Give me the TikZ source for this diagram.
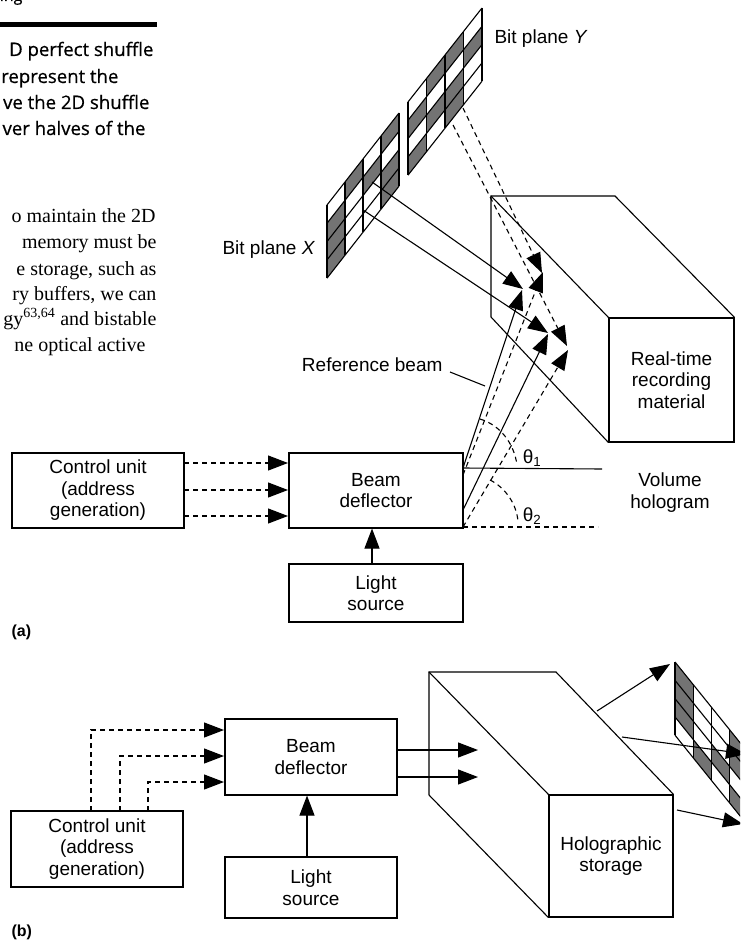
\documentclass[tikz,border=0pt]{standalone}
\usepackage{fontspec}
\setmainfont{Liberation Sans}
\newfontfamily\capfont[FakeBold=0.6]{Open Sans}
\newfontfamily\bodyfont{Liberation Serif}
\usetikzlibrary{arrows.meta}
\newcommand{\bitplane}[6]{%
  \foreach \c/\r in {#6} {
    \fill[halftone] ({#1+\c*#3},{#2+\c*#4+\r*#5}) -- ({#1+(\c+1)*#3},{#2+(\c+1)*#4+\r*#5})
      -- ({#1+(\c+1)*#3},{#2+(\c+1)*#4+(\r+1)*#5}) -- ({#1+\c*#3},{#2+\c*#4+(\r+1)*#5}) -- cycle;
  }
  \foreach \c in {0,...,4} { \draw[gridline] ({#1+\c*#3},{#2+\c*#4}) -- ({#1+\c*#3},{#2+\c*#4+4*#5}); }
  \foreach \r in {0,...,4} { \draw[gridline] ({#1},{#2+\r*#5}) -- ({#1+4*#3},{#2+4*#4+\r*#5}); }
}
\begin{document}
\begin{tikzpicture}[x=1pt,y=-1pt,
  line width=1.1pt,
  halftone/.style={fill=black!55},
  gridline/.style={line width=1.1pt},
  tbox/.style={draw,rectangle,align=center,inner sep=0pt,font=\fontsize{19}{21.5}\selectfont},
  lbl/.style={align=center,inner sep=0pt,font=\fontsize{19}{21.5}\selectfont},
  arr/.style={-{Triangle[length=20pt,width=15pt]},shorten >=0pt},
  dashline/.style={dash pattern=on 5pt off 4pt},
  dasharr/.style={arr,dashline},
  edge3d/.style={line width=1.1pt},
  capt/.style={anchor=base east,inner sep=0pt,font=\capfont\fontsize{18.6}{20}\selectfont},
  bodyt/.style={anchor=base east,inner sep=0pt,font=\bodyfont\fontsize{20}{20}\selectfont},
  panel/.style={anchor=west,inner sep=0pt,font=\bfseries\fontsize{16}{18}\selectfont}
]
\clip (0,0) rectangle (740,944);
\fill[white] (0,0) rectangle (740,944);

% --- page fragment ---
\node[capt] (t0) at (23,1) {\fontsize{16}{18}\selectfont ing};
\fill (0,22.5) rectangle (157,27.5);
\node[capt] (t1) at (154,56) {D perfect shuffle};
\node[capt] (t2) at (119,83) {represent the};
\node[capt] (t3) at (150,109) {ve the 2D shuffle};
\node[capt] (t4) at (146,135) {ver halves of the};
\node[bodyt] (b1) at (156,222) {o maintain the 2D};
\node[bodyt] (b2) at (157,248) {memory must be};
\node[bodyt] (b3) at (157,275) {e storage, such as};
\node[bodyt] (b4) at (157,300) {ry buffers, we can};
\node[bodyt] (b5) at (157,325) {gy\textsuperscript{63,64} and bistable};
\node[bodyt] (b6) at (146,351) {ne optical active};

% --- bit planes (a) ---
\bitplane{327}{205}{18}{-23}{18.3}{0/1,0/2,0/3,1/0,2/1,3/0,3/2,3/3}
\bitplane{408}{102}{18.5}{-23.5}{18.3}{0/1,0/3,1/0,1/2,2/0,2/2,2/3,3/1}
\node[lbl,anchor=west] (lx) at (222,250) {Bit plane \textit{X}};
\node[lbl,anchor=west] (ly) at (494,39) {Bit plane \textit{Y}};

% --- part (a) boxes ---
\node[tbox,minimum width=172pt,minimum height=75pt] (ctrlA) at (98,490.5) {Control unit\\(address\\generation)};
\node[tbox,minimum width=174pt,minimum height=75pt] (beamA) at (376,490.5) {Beam\\deflector};
\node[tbox,minimum width=174pt,minimum height=58pt] (lightA) at (376,593) {Light\\source};
\node[tbox,minimum width=125pt,minimum height=124pt] (recA) at (671.5,380) {Real-time\\recording\\material};

\coordinate (abtl) at (491,196);
\coordinate (abtr) at (615,196);
\coordinate (abbl) at (491,317);
\draw[edge3d] (abbl) -- (abtl) -- (abtr) -- (recA.north east);
\draw[edge3d] (abtl) -- (recA.north west);
\draw[edge3d] (abbl) -- (recA.south west);

\foreach \n/\y in {1/463,2/490,3/516} {
  \coordinate (cas\n) at (184,\y);
  \coordinate (cat\n) at (288,\y);
  \draw[dasharr] (cas\n) -- (cat\n);
}
\draw[arr] (lightA.north -| 372,0) -- (beamA.south -| 372,0);

% beams (a)
\coordinate (s1) at (463,468);
\coordinate (s2) at (463,510);
\coordinate (d1) at (463,475);
\coordinate (d2) at (463,527);
\coordinate (tp1) at (522,290);
\coordinate (tp2) at (548,334);
\coordinate (tq1) at (543,272);
\coordinate (tq2) at (568,350);
\draw[arr] (s1) -- (tp1);
\draw[arr] (s2) -- (tp2);
\draw[dasharr] (d1) -- (tq1);
\draw[dasharr] (d2) -- (tq2);
\coordinate (xa) at (372,182);
\coordinate (xb) at (363,210);
\draw[arr] (xa) -- (523,289);
\draw[arr] (xb) -- (548,333);
\coordinate (ya) at (463,108);
\coordinate (yb) at (453,125);
\draw[dasharr] (ya) -- (542,273);
\draw[dasharr] (yb) -- (567,346);

% angles
\coordinate (h1e) at (602,469);
\coordinate (h2e) at (598,527);
\draw (s1) -- (h1e);
\draw[dashline] (d2) -- (h2e);
\draw[dashline] (480,419) .. controls (500,425) and (514,443) .. (517,465);
\draw[dashline] (490,480) .. controls (506,488) and (517,505) .. (518,522);
\node[lbl] (th1) at (532,458) {θ\textsubscript{1}};
\node[lbl] (th2) at (532,516) {θ\textsubscript{2}};
\node[lbl] (vol) at (670,492.5) {Volume\\hologram};
\node[lbl,anchor=east] (refb) at (443,365) {Reference beam};
\coordinate (refe) at (485,386);
\draw (450,372) -- (refe);
\node[panel] (pa) at (11,632) {(a)};

% --- part (b) ---
\node[tbox,minimum width=172pt,minimum height=76pt] (ctrlB) at (97,849) {Control unit\\(address\\generation)};
\node[tbox,minimum width=172pt,minimum height=76pt] (beamB) at (311,757) {Beam\\deflector};
\node[tbox,minimum width=172pt,minimum height=61pt] (lightB) at (311,887.5) {Light\\source};
\node[tbox,minimum width=124pt,minimum height=122pt] (recB) at (611,856) {Holographic\\storage};

\coordinate (bbtl) at (429,672);
\coordinate (bbtr) at (556,672);
\coordinate (bbbl) at (429,795);
\draw[edge3d] (bbbl) -- (bbtl) -- (bbtr) -- (recB.north east);
\draw[edge3d] (bbtl) -- (recB.north west);
\draw[edge3d] (bbbl) -- (recB.south west);

\foreach \n/\x/\y in {1/91/730,2/120/756,3/148/782} {
  \coordinate (cbb\n) at (\x,811);
  \coordinate (cbc\n) at (\x,\y);
  \coordinate (cbt\n) at (224,\y);
  \draw[dasharr] (cbb\n) -- (cbc\n) -- (cbt\n);
}
\draw[arr] (lightB.north -| 307,0) -- (beamB.south -| 307,0);
\coordinate (o1) at (478,750);
\coordinate (o2) at (478,777);
\draw[arr] (beamB.east |- o1) -- (o1);
\draw[arr] (beamB.east |- o2) -- (o2);

\bitplane{675}{662}{18.3}{22.7}{18.3}{0/0,0/1,0/2,1/3,2/2,3/0,3/1,3/3}
\coordinate (ba1) at (597,711);
\coordinate (ba2) at (622,737);
\coordinate (ba3) at (677,810);
\draw[arr] (ba1) -- (670,664);
\draw[arr] (ba2) -- (746,754);
\draw[arr] (ba3) -- (743,824);
\node[panel] (pb) at (11,932) {(b)};
\end{tikzpicture}
\end{document}
